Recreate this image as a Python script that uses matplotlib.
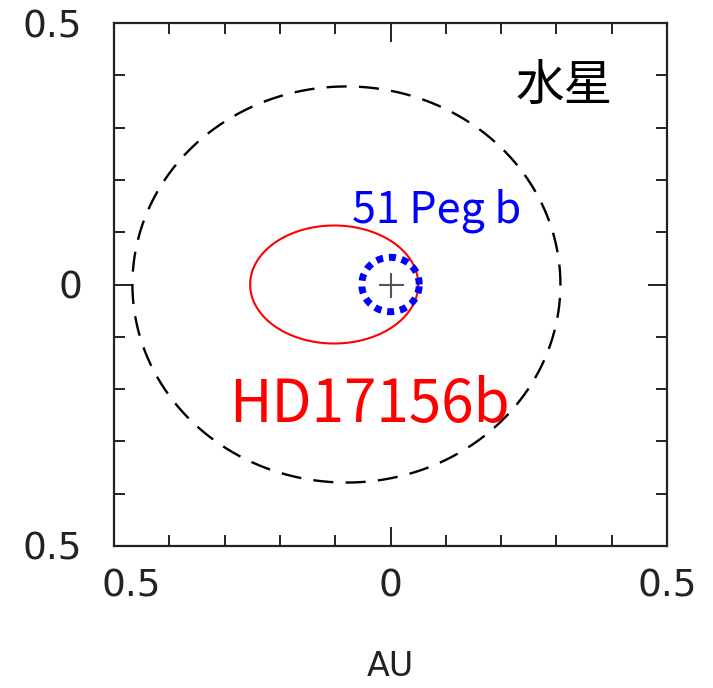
import numpy as np
import matplotlib
matplotlib.use("Agg")
import matplotlib.pyplot as plt
from matplotlib.ticker import MultipleLocator
from matplotlib.transforms import ScaledTranslation

# orbits (AU), star at the focus (0, 0)
names = ['水星', 'HD17156b', '51 Peg b']
semi_major = [0.387, 0.152, 0.052]
eccentricity = [0.206, 0.67, 0.0]

tick_vals = [-0.5, 0, 0.5]
tick_labels = ['0.5', '0', '0.5']   # minus signs lost in the original

fig = plt.figure(figsize=(7.13, 6.88), dpi=100)
ax = fig.add_axes([114 / 713, 142 / 688, 553 / 713, 523 / 688])

styles = [
    dict(color='black', lw=1.7, linestyle=(0, (8.5, 5.2))),
    dict(color='red', lw=1.5, linestyle='-'),
    dict(color='blue', lw=5.0, linestyle=(0, (1, 0.85)), dash_capstyle='butt'),
]

t = np.linspace(0, 2 * np.pi, 721)
for a, e, st in zip(semi_major, eccentricity, styles):
    b = a * np.sqrt(1 - e ** 2)
    ax.plot(a * (np.cos(t) - e), b * np.sin(t), **st)

# central star
ax.plot([0], [0], marker='+', ms=18, mew=1.5, color='#555555')

txt_font = ['Noto Sans CJK JP', 'DejaVu Sans']
ax.text(0.314, 0.38, names[0], color='black', fontsize=35, family=txt_font,
        ha='center', va='center')
ax.text(-0.292, -0.263, names[1], color='red', fontsize=42, family=txt_font,
        ha='left', va='baseline')
ax.text(-0.07, 0.118, names[2], color='blue', fontsize=31, family=txt_font,
        ha='left', va='baseline')

ax.set_xlim(-0.5, 0.5)
ax.set_ylim(-0.5, 0.5)
ax.set_xticks(tick_vals)
ax.set_xticklabels(tick_labels)
ax.set_yticks(tick_vals)
ax.set_yticklabels(tick_labels)
ax.xaxis.set_minor_locator(MultipleLocator(0.1))
ax.yaxis.set_minor_locator(MultipleLocator(0.1))

ax.tick_params(which='both', direction='in', top=True, right=True, width=1.4,
               color='#222222')
ax.tick_params(which='major', length=14)
ax.tick_params(which='minor', length=8)
ax.tick_params(axis='x', which='major', pad=16, labelsize=27, labelcolor='#222222')
ax.tick_params(axis='y', which='major', pad=23, labelsize=27, labelcolor='#222222')
for lab in ax.get_xticklabels() + ax.get_yticklabels():
    lab.set_family('DejaVu Sans')

# first x label sits where "-0.5" was centred
lab0 = ax.get_xticklabels()[0]
lab0.set_transform(lab0.get_transform() + ScaledTranslation(0.17, 0, fig.dpi_scale_trans))

for sp in ax.spines.values():
    sp.set_linewidth(1.6)
    sp.set_color('#222222')

ax.set_xlabel('AU', fontsize=24, color='#222222', family='DejaVu Sans', labelpad=33)

fig.savefig('out.png', dpi=100)
